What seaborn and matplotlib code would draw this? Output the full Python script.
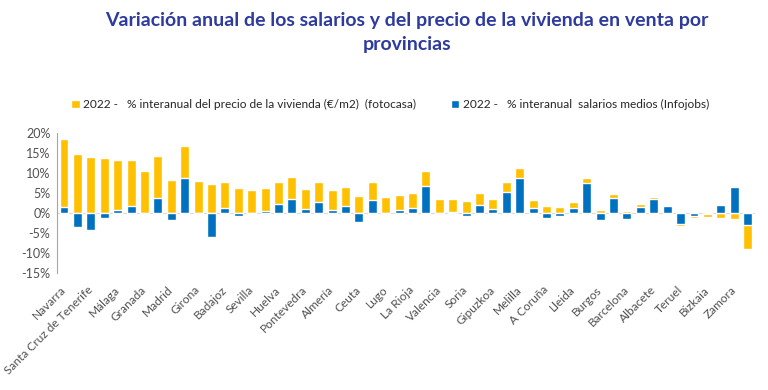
import numpy as np
import pandas as pd
import matplotlib
matplotlib.use("Agg")
import matplotlib.pyplot as plt
import seaborn as sns
from matplotlib.ticker import FuncFormatter

provincias = [
    "Navarra", "Cádiz", "Santa Cruz de Tenerife", "Las Palmas", "Málaga", "Alicante",
    "Granada", "Baleares", "Madrid", "Cantabria", "Girona", "Ávila", "Badajoz", "Córdoba",
    "Sevilla", "Jaén", "Huelva", "Tarragona", "Pontevedra", "Asturias", "Almería", "Murcia",
    "Ceuta", "Castellón", "Lugo", "Ourense", "La Rioja", "Guadalajara", "Valencia", "Cáceres",
    "Soria", "Toledo", "Gipuzkoa", "Valladolid", "Melilla", "Huesca", "A Coruña", "León",
    "Lleida", "Zaragoza", "Burgos", "Araba", "Barcelona", "Salamanca", "Albacete", "Segovia",
    "Teruel", "Cuenca", "Bizkaia", "Palencia", "Zamora", "Ciudad Real",
]
vivienda = [
    18.5, 14.75, 14.0, 13.75, 13.2, 13.2, 10.6, 14.2, 8.25, 16.8,
    8.0, 7.3, 7.8, 6.3, 5.8, 6.25, 7.8, 9.1, 6.0, 7.8,
    5.7, 6.5, 4.3, 7.8, 4.1, 4.6, 5.0, 10.6, 3.6, 3.6,
    3.0, 4.9, 3.6, 7.7, 11.25, 3.3, 1.7, 1.6, 2.7, 8.75,
    0.8, 4.8, 0.6, 2.2, 4.0, 1.9, -3.2, -1.3, -1.1, -1.2,
    -1.6, -8.9,
]
salarios = [
    1.4, -3.6, -4.3, -1.25, 0.75, 1.8, 0.0, 3.8, -1.7, 8.7,
    -0.2, -5.9, 1.3, -0.8, -0.2, 0.4, 2.2, 3.6, 0.9, 2.7,
    0.7, 1.8, -2.3, 3.3, -0.2, 0.7, 1.2, 6.8, 0.0, 0.35,
    -0.7, 1.9, 0.9, 5.25, 8.8, 1.25, -1.2, -0.7, 1.3, 7.4,
    -1.8, 3.8, -1.6, 1.6, 3.6, 1.75, -2.8, -0.7, -0.3, 1.9,
    6.6, -3.1,
]
yticks = [20, 15, 10, 5, 0, -5, -10, -15]
leg_viv = "2022 -   % interanual del precio de la vivienda (€/m2)  (fotocasa)"
leg_sal = "2022 -   % interanual  salarios medios (Infojobs)"
titulo = "Variación anual de los salarios y del precio de la vivienda en venta por\nprovincias"

sns.set_style("white")
plt.rcParams["font.family"] = ["Lato", "DejaVu Sans"]
plt.rcParams["axes.unicode_minus"] = False

df = pd.DataFrame({"provincia": provincias, "vivienda": vivienda, "salarios": salarios})

YEL = "#FFC000"
BLU = "#0070C0"
GRAY_TXT = "#505050"

fig = plt.figure(figsize=(7.68, 3.90), dpi=100)
ax = fig.add_axes([0.0746, 0.300, 0.9076, 0.359])

sns.barplot(data=df, x="provincia", y="vivienda", color=YEL, width=0.67,
            saturation=1, ax=ax, label=leg_viv)
sns.barplot(data=df, x="provincia", y="salarios", color=BLU, width=0.67,
            saturation=1, ax=ax, label=leg_sal)

ax.set_xlim(-0.5, len(provincias) - 0.5)
ax.set_ylim(-15, 20)
ax.set_yticks(yticks)
ax.yaxis.set_major_formatter(FuncFormatter(lambda v, p: f"{v:.0f}%"))
ax.set_xlabel("")
ax.set_ylabel("")
if ax.legend_ is not None:
    ax.legend_.remove()

for s in ["top", "right"]:
    ax.spines[s].set_visible(False)
ax.spines["bottom"].set_position(("data", 0))
ax.spines["bottom"].set_color("#D9D9D9")
ax.spines["bottom"].set_zorder(0)
ax.spines["left"].set_color("#A6A6A6")

ax.set_xticks(range(0, len(provincias), 2))
ax.set_xticks(np.arange(-0.5, len(provincias), 1), minor=True)
ax.tick_params(axis="x", which="major", length=0, pad=54)
ax.tick_params(axis="x", which="minor", length=3, color="#D9D9D9", direction="out")
ax.tick_params(axis="y", length=3, color="#A6A6A6", labelsize=9, labelcolor=GRAY_TXT, pad=2)

ax.set_xticklabels(provincias[::2])
for t in ax.get_xticklabels():
    t.set_rotation(45)
    t.set_ha("right")
    t.set_va("center")
    t.set_rotation_mode("anchor")
    t.set_fontsize(8.6)
    t.set_color(GRAY_TXT)

h, l = ax.get_legend_handles_labels()
leg = fig.legend(h, l, loc="center", bbox_to_anchor=(0.508, 0.731), ncol=2, frameon=False,
                 prop={"size": 8.6},
                 handlelength=0.7, handleheight=0.7, handletextpad=0.3,
                 columnspacing=2.9, labelcolor="#262626")

fig.text(0.53, 0.968, titulo, ha="center", va="top", fontsize=14, fontweight="bold",
         color="#2E3B9E", linespacing=1.5)

fig.savefig("out.png", dpi=100)
